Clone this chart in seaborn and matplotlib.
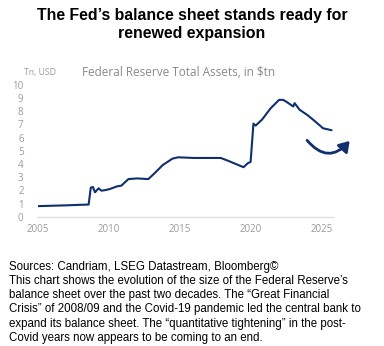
import matplotlib
matplotlib.use("Agg")
import matplotlib.pyplot as plt
import seaborn as sns
import pandas as pd
from matplotlib.patches import FancyArrowPatch

years = [2005.0, 2006.0, 2007.0, 2008.0, 2008.6, 2008.75, 2008.9, 2009.05, 2009.3, 2009.5,
         2009.8, 2010.1, 2010.6, 2010.9, 2011.05, 2011.4, 2012.0, 2012.8, 2013.25, 2013.8,
         2014.5, 2014.9, 2016.0, 2017.0, 2017.9, 2018.5, 2019.5, 2019.8, 2020.0, 2020.2,
         2020.35, 2020.8, 2021.4, 2022.0, 2022.3, 2022.6, 2023.0, 2023.1, 2023.45, 2024.0,
         2024.4, 2025.1, 2025.7]
assets = [0.8, 0.83, 0.86, 0.9, 0.92, 2.2, 2.25, 1.85, 2.15, 1.97,
          2.02, 2.1, 2.3, 2.35, 2.5, 2.85, 2.9, 2.85, 3.3, 3.9,
          4.4, 4.5, 4.45, 4.45, 4.45, 4.2, 3.75, 4.05, 4.15, 7.05,
          6.9, 7.35, 8.2, 8.85, 8.85, 8.65, 8.35, 8.6, 8.1, 7.7,
          7.35, 6.7, 6.55]
x_ticks = [2005, 2010, 2015, 2020, 2025]
y_ticks = [0, 1, 2, 3, 4, 5, 6, 7, 8, 9, 10]

title = "The Fed\u2019s balance sheet stands ready for\nrenewed expansion"
chart_title = "Federal Reserve Total Assets, in $tn"
unit_label = "Tn, USD"
footer = ("Sources: Candriam, LSEG Datastream, Bloomberg\u00a9\n"
          "This chart shows the evolution of the size of the Federal Reserve\u2019s\n"
          "balance sheet over the past two decades. The \u201cGreat Financial\n"
          "Crisis\u201d of 2008/09 and the Covid-19 pandemic led the central bank to\n"
          "expand its balance sheet. The \u201cquantitative tightening\u201d in the post-\n"
          "Covid years now appears to be coming to an end.")

df = pd.DataFrame({"year": years, "assets": assets})

sns.set_theme(style="white")
plt.rcParams["font.family"] = ["Open Sans", "DejaVu Sans"]

W, H = 384, 346
fig = plt.figure(figsize=(W / 100, H / 100), dpi=100)
fig.patch.set_facecolor("white")

ax = fig.add_axes([37.5 / W, 1 - 216.7 / H, (333 - 37.5) / W, (216.7 - 84.7) / H])
navy = "#0f2f6e"
sns.lineplot(data=df, x="year", y="assets", ax=ax, color=navy, lw=1.5)
ax.set_xlim(2005, 2025.8)
ax.set_ylim(0, 10)
ax.set_xticks(x_ticks)
ax.set_xticklabels([str(t) for t in x_ticks])
ax.set_yticks(y_ticks)
ax.set_yticklabels([str(t) for t in y_ticks])
ax.set_xlabel("")
ax.set_ylabel("")
for s in ["top", "right", "left"]:
    ax.spines[s].set_visible(False)
ax.spines["bottom"].set_color("#e0e0e0")
ax.spines["bottom"].set_linewidth(1.0)
ax.tick_params(axis="both", length=0, labelsize=7, labelcolor="#9a9a9a")
ax.tick_params(axis="y", pad=10)
ax.tick_params(axis="x", pad=5)
ax.patch.set_alpha(0)

arrow = FancyArrowPatch((2023.85, 5.95), (2027.1, 5.9), connectionstyle="arc3,rad=0.62",
                        arrowstyle="-|>,head_length=4,head_width=2.6", color=navy, lw=2.0,
                        mutation_scale=1.5, clip_on=False, transform=ax.transData)
ax.add_patch(arrow)

fig.text(24 / W, 1 - 73 / H, unit_label, fontsize=6.3, color="#9a9a9a", va="center", ha="left")
fig.text(82 / W, 1 - 73 / H, chart_title, fontsize=8.5, color="#8a8a8a", va="center", ha="left")

fig.text(0.5, 1 - 8 / H, title, fontsize=11.4, fontweight="bold", ha="center", va="top",
         color="black", family=["Liberation Sans", "DejaVu Sans"], linespacing=1.25)
fig.text(9 / W, 1 - 261 / H, footer, fontsize=8.3, ha="left", va="top", color="black",
         family=["Liberation Sans", "DejaVu Sans"], linespacing=1.24)

fig.savefig("out.png", dpi=100, facecolor="white")
